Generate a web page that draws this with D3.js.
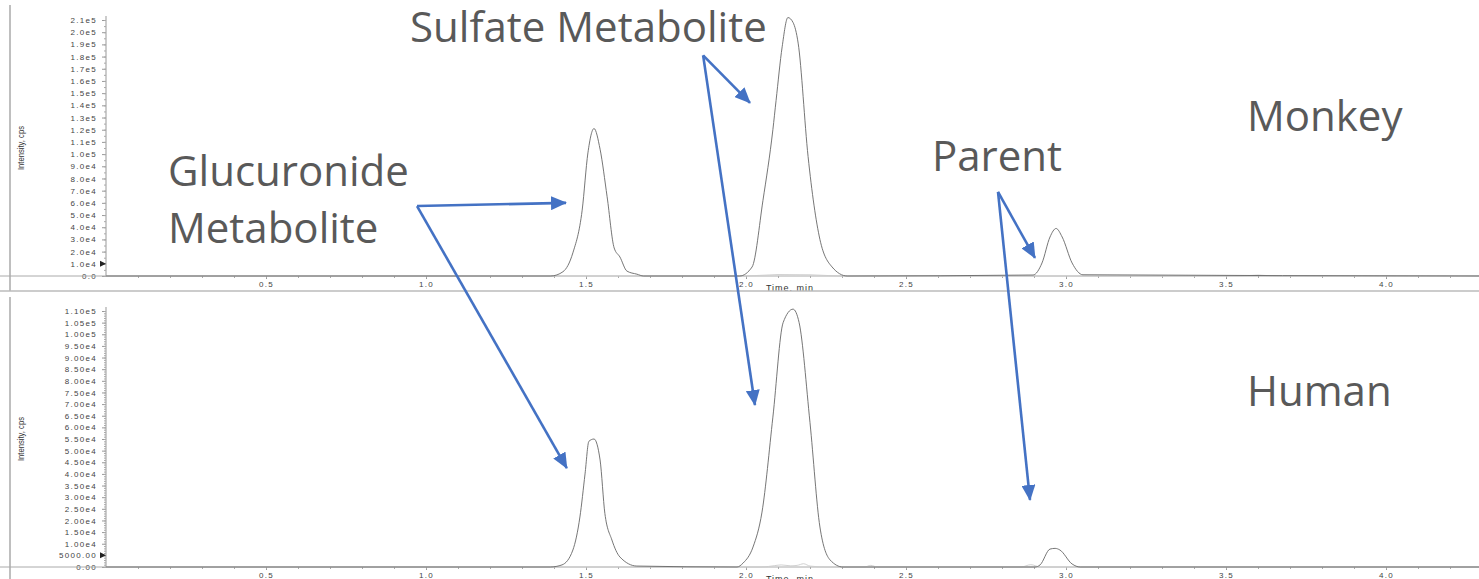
<!DOCTYPE html>
<html>
<head>
<meta charset="utf-8">
<script src="https://cdn.jsdelivr.net/npm/d3@7"></script>
<style>
  body { margin: 0; background: #fff; }
  .tick text { font-family: "Liberation Sans", Arial, sans-serif; font-size: 8px; letter-spacing: 1.3px; fill: #444; }
  .label { font-family: "Open Sans", sans-serif; font-size: 42px; fill: #595959; }
</style>
</head>
<body>
<svg width="1479" height="579"></svg>
<script>
// chromatogram traces (time in min, intensity in cps)
const monkeyTime = [0, 1.39, 1.428, 1.459, 1.488, 1.506, 1.525, 1.544, 1.566, 1.588, 1.606, 1.628, 1.659, 1.68,
  1.98, 2.019, 2.053, 2.084, 2.094, 2.113, 2.131, 2.147, 2.163, 2.194, 2.231, 2.269, 2.316,
  2.897, 2.925, 2.95, 2.969, 2.988, 3.019, 3.053, 4.3];
const monkeyIntensity = [0, 0, 3500, 19000, 54000, 101000, 121000, 104000, 65000, 23000, 15600, 4000, 1500, 0,
  0, 7400, 62000, 120000, 144000, 188000, 212000, 208000, 191000, 98000, 30000, 7400, 0,
  800, 10700, 32000, 39000, 32000, 10700, 1000, 0];
const monkeyFaintTime = [0, 2.0, 2.1, 2.2, 2.3, 3.55, 3.6, 3.65, 4.3];
const monkeyFaintIntensity = [0, 0, 1200, 1000, 0, 0, 800, 0, 0];

const humanTime = [0, 1.388, 1.425, 1.459, 1.481, 1.497, 1.509, 1.525, 1.544, 1.559, 1.581, 1.606, 1.659,
  1.972, 1.991, 2.022, 2.05, 2.084, 2.116, 2.147, 2.166, 2.2, 2.231, 2.263, 2.303,
  2.903, 2.919, 2.95, 2.966, 2.981, 3.019, 3.044, 4.3];
const humanIntensity = [0, 0, 900, 7300, 21500, 40000, 54000, 55000, 46000, 23000, 11600, 4300, 400,
  0, 1700, 8600, 23600, 64400, 105000, 110800, 105000, 62000, 17200, 3000, 0,
  0, 900, 7700, 8000, 7300, 1300, 0, 0];
const humanFaintTime = [0, 2.05, 2.09, 2.11, 2.14, 2.16, 2.18, 2.2, 2.25, 2.37, 2.39, 2.41, 2.86, 2.89, 2.92, 4.3];
const humanFaintIntensity = [0, 0, 600, 900, 500, 700, 1400, 400, 0, 0, 700, 0, 0, 1000, 0, 0];

const xTicks = [0.5, 1.0, 1.5, 2.0, 2.5, 3.0, 3.5, 4.0];
const monkeyYTicks = d3.range(0, 210001, 10000);
const humanYTicks = d3.range(0, 110001, 5000);

// annotation arrows: [panel, tStart, iStart, tEnd, iEnd]
const arrows = [
  ["monkey", 0.972, 57400, 1.4375, 60000],
  ["cross", 0.972, 57400, 1.44, 42500],
  ["monkey", 1.866, 181000, 2.0125, 142000],
  ["cross", 1.866, 181000, 2.028, 69600],
  ["monkey", 2.7875, 69000, 2.903, 14800],
  ["cross", 2.7875, 69000, 2.8875, 28800]
];

const svg = d3.select("svg");
const W = 1479;

const x = d3.scaleLinear().domain([0, 4.3]).range([106, 106 + 4.3 * 320]);

const panels = [
  { name: "monkey", y: d3.scaleLinear().domain([0, 210000]).range([276, 20]),
    ticks: monkeyYTicks, minor: d3.range(0, 210001, 5000), marker: 10000,
    fmt: v => v === 0 ? "0.0" : d3.format(".1e")(v).replace("+", ""),
    top: 5, bottom: 291, traces: [[monkeyFaintTime, monkeyFaintIntensity, "#ccc"], [monkeyTime, monkeyIntensity, "#666"]] },
  { name: "human", y: d3.scaleLinear().domain([0, 110000]).range([567, 311]),
    ticks: humanYTicks, minor: d3.range(0, 110001, 1000), marker: 5000,
    fmt: v => v < 10000 ? v.toFixed(2) : d3.format(".2e")(v).replace("+", ""),
    top: 297, bottom: 579, traces: [[humanFaintTime, humanFaintIntensity, "#ccc"], [humanTime, humanIntensity, "#666"]] }
];

panels.forEach(p => {
  const g = svg.append("g");
  const base = p.y(0);

  // left frame line
  g.append("line").attr("x1", 10).attr("x2", 10).attr("y1", p.top).attr("y2", p.bottom)
    .attr("stroke", "#aaa").attr("stroke-width", 1.5);

  // y axis
  const ya = g.append("g").attr("transform", "translate(106,0)")
    .call(d3.axisLeft(p.y).tickValues(p.ticks).tickFormat(p.fmt).tickSize(4).tickPadding(5));
  ya.selectAll(".tick line").attr("stroke", "#999");
  ya.select(".domain").attr("stroke", "#999").attr("d", `M0,${p.y.range()[1] - 4}V${base}`);
  g.append("g").attr("transform", "translate(106,0)")
    .call(d3.axisLeft(p.y).tickValues(p.minor).tickFormat("").tickSize(2))
    .call(a => a.select(".domain").remove())
    .selectAll(".tick line").attr("stroke", "#aaa");

  // marker triangle
  const my = p.y(p.marker);
  g.append("path").attr("d", `M100,${my - 3}L106,${my}L100,${my + 3}Z`).attr("fill", "#222");

  // y label
  g.append("text")
    .attr("transform", `translate(24,${(p.y.range()[1] + base) / 2}) rotate(-90)`)
    .attr("text-anchor", "middle")
    .style("font-family", "'Liberation Sans Narrow', 'Liberation Sans', sans-serif")
    .style("font-size", "9px").style("fill", "#333")
    .attr("textLength", 44).attr("lengthAdjust", "spacingAndGlyphs")
    .text("Intensity, cps");

  // x axis
  const xa = g.append("g").attr("transform", `translate(0,${base})`)
    .call(d3.axisBottom(x).tickValues(xTicks).tickFormat(d3.format(".1f")).tickSize(3).tickPadding(2));
  xa.selectAll(".tick line").attr("stroke", "#999");
  xa.select(".domain").attr("stroke", "#aaa").attr("d", `M0,0H${W}`);
  g.append("g").attr("transform", `translate(0,${base})`)
    .call(d3.axisBottom(x).tickValues(d3.range(1, 43).map(i => i / 10)).tickFormat("").tickSize(2))
    .call(a => a.select(".domain").remove())
    .selectAll(".tick line").attr("stroke", "#aaa");

  g.append("text").attr("x", 790).attr("y", base + 15).attr("text-anchor", "middle")
    .style("font-family", "'Liberation Sans', Arial, sans-serif").style("font-size", "9px")
    .style("letter-spacing", "1px").style("fill", "#333")
    .text("Time, min");

  // traces
  const line = d3.line().x(d => x(d[0])).y(d => p.y(d[1])).curve(d3.curveMonotoneX);
  p.traces.forEach(([t, v, c]) => {
    g.append("path").datum(t.map((d, i) => [d, v[i]]))
      .attr("fill", "none").attr("stroke", c).attr("stroke-width", 0.9).attr("d", line);
  });
});

// separator between panels
svg.append("rect").attr("x", 0).attr("y", 291).attr("width", W).attr("height", 5).attr("fill", "#fff");
svg.append("line").attr("x1", 0).attr("x2", W).attr("y1", 291).attr("y2", 291)
  .attr("stroke", "#bbb").attr("stroke-width", 1.5);

// annotation labels
const labels = [
  ["Sulfate Metabolite", 410, 42],
  ["Glucuronide", 168, 186],
  ["Metabolite", 168, 243],
  ["Parent", 932, 171],
  ["Monkey", 1247, 131],
  ["Human", 1247, 406]
];
svg.selectAll(".label").data(labels).join("text")
  .attr("class", "label").attr("x", d => d[1]).attr("y", d => d[2]).text(d => d[0]);

// arrows
svg.append("defs").append("marker")
  .attr("id", "head").attr("markerUnits", "userSpaceOnUse")
  .attr("viewBox", "0 0 16 14").attr("refX", 15).attr("refY", 7)
  .attr("markerWidth", 16).attr("markerHeight", 14).attr("orient", "auto")
  .append("path").attr("d", "M0,0L16,7L0,14Z").attr("fill", "#4472C4");

const yM = panels[0].y, yH = panels[1].y;
svg.selectAll(".arrow").data(arrows).join("line")
  .attr("class", "arrow")
  .attr("x1", d => x(d[1])).attr("y1", d => yM(d[2]))
  .attr("x2", d => x(d[3])).attr("y2", d => d[0] === "monkey" ? yM(d[4]) : yH(d[4]))
  .attr("stroke", "#4472C4").attr("stroke-width", 2.6)
  .attr("marker-end", "url(#head)");
</script>
</body>
</html>
